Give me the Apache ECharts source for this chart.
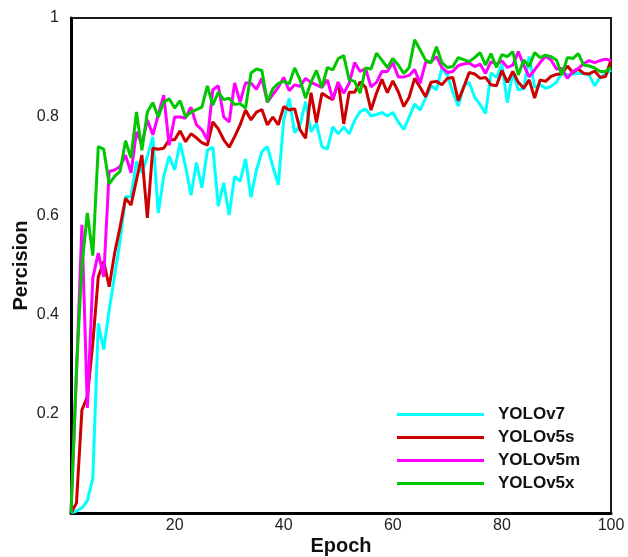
<!DOCTYPE html>
<html lang="en">
<head>
    <meta charset="UTF-8">
    <title>Percision vs Epoch</title>
    <style>
        html, body { margin: 0; padding: 0; background: #fff; }
        div#main { width: 628px; height: 557px; }
    </style>
</head>
<body>
    <div id="main"></div>
    <script src="https://cdn.jsdelivr.net/npm/echarts@6/dist/echarts.min.js"></script>
    <script>
        // epochs 1..100
        const epochs = [];
        for (let i = 1; i <= 100; i++) epochs.push(i);

        const xTicks = [20, 40, 60, 80, 100];
        const names = ['YOLOv7', 'YOLOv5s', 'YOLOv5m', 'YOLOv5x'];
        const colors = ['#00ffff', '#cc0000', '#ff00ff', '#00c800'];

        const yolov7 = [
            0, 0.004, 0.01, 0.025, 0.07, 0.383, 0.33, 0.41, 0.48, 0.55,
            0.639, 0.639, 0.71, 0.687, 0.72, 0.76, 0.606, 0.68, 0.721, 0.693,
            0.748, 0.70, 0.642, 0.708, 0.657, 0.733, 0.739, 0.62, 0.667, 0.602,
            0.68, 0.67, 0.715, 0.638, 0.693, 0.73, 0.74, 0.70, 0.663, 0.794,
            0.838, 0.768, 0.784, 0.831, 0.770, 0.787, 0.74, 0.735, 0.78, 0.766,
            0.78, 0.766, 0.793, 0.811, 0.816, 0.802, 0.805, 0.809, 0.802, 0.809,
            0.79, 0.775, 0.80, 0.826, 0.814, 0.838, 0.863, 0.855, 0.898, 0.885,
            0.85, 0.822, 0.863, 0.87, 0.84, 0.825, 0.807, 0.889, 0.88, 0.906,
            0.829, 0.89, 0.855, 0.857, 0.922, 0.86, 0.865, 0.858, 0.862, 0.87,
            0.89, 0.885, 0.887, 0.888, 0.888, 0.885, 0.863, 0.88, 0.887, 0.895
        ];
        const yolov5s = [
            0, 0.02, 0.208, 0.235, 0.343, 0.477, 0.508, 0.457, 0.525, 0.578,
            0.636, 0.622, 0.673, 0.723, 0.596, 0.737, 0.735, 0.737, 0.754, 0.754,
            0.772, 0.75, 0.766, 0.758, 0.748, 0.743, 0.79, 0.776, 0.754, 0.739,
            0.76, 0.784, 0.814, 0.794, 0.81, 0.815, 0.784, 0.80, 0.784, 0.821,
            0.814, 0.817, 0.774, 0.757, 0.849, 0.789, 0.848, 0.841, 0.835, 0.871,
            0.786, 0.85, 0.85, 0.871, 0.86, 0.814, 0.848, 0.876, 0.849, 0.873,
            0.851, 0.821, 0.84, 0.878, 0.86, 0.841, 0.87, 0.872, 0.865, 0.878,
            0.88, 0.833, 0.86, 0.89, 0.887, 0.878, 0.88, 0.865, 0.863, 0.894,
            0.87, 0.892, 0.87, 0.858, 0.875, 0.838, 0.875, 0.872, 0.882, 0.886,
            0.888, 0.903, 0.89, 0.897, 0.888, 0.887, 0.893, 0.88, 0.882, 0.915
        ];
        const yolov5m = [
            0, 0.28, 0.582, 0.212, 0.475, 0.525, 0.477, 0.69, 0.693, 0.70,
            0.723, 0.687, 0.77, 0.745, 0.794, 0.764, 0.804, 0.844, 0.743, 0.80,
            0.80, 0.798, 0.82, 0.784, 0.774, 0.754, 0.855, 0.863, 0.80, 0.79,
            0.869, 0.83, 0.869, 0.868, 0.856, 0.878, 0.83, 0.845, 0.86, 0.88,
            0.853, 0.865, 0.862, 0.878, 0.87, 0.865, 0.86, 0.875, 0.836, 0.87,
            0.848, 0.868, 0.91, 0.892, 0.898, 0.861, 0.87, 0.892, 0.892, 0.91,
            0.881, 0.881, 0.884, 0.896, 0.868, 0.91, 0.912, 0.922, 0.90, 0.89,
            0.892, 0.904, 0.907, 0.909, 0.902, 0.907, 0.888, 0.912, 0.907, 0.913,
            0.90, 0.905, 0.932, 0.905, 0.881, 0.895, 0.91, 0.923, 0.915, 0.897,
            0.898, 0.878, 0.892, 0.898, 0.908, 0.914, 0.91, 0.914, 0.917, 0.914
        ];
        const yolov5x = [
            0, 0.29, 0.5, 0.606, 0.52, 0.74, 0.735, 0.665, 0.68, 0.69,
            0.752, 0.717, 0.81, 0.733, 0.81, 0.829, 0.80, 0.83, 0.837, 0.818,
            0.833, 0.80, 0.81, 0.815, 0.82, 0.863, 0.824, 0.85, 0.835, 0.838,
            0.825, 0.827, 0.818, 0.889, 0.897, 0.894, 0.83, 0.857, 0.868, 0.872,
            0.867, 0.899, 0.875, 0.838, 0.87, 0.894, 0.86, 0.90, 0.895, 0.918,
            0.924, 0.875, 0.872, 0.848, 0.899, 0.897, 0.929, 0.915, 0.90, 0.918,
            0.905, 0.888, 0.90, 0.956, 0.936, 0.915, 0.909, 0.942, 0.91, 0.90,
            0.902, 0.92, 0.916, 0.912, 0.92, 0.93, 0.905, 0.928, 0.90, 0.926,
            0.922, 0.932, 0.885, 0.915, 0.902, 0.93, 0.92, 0.925, 0.922, 0.915,
            0.885, 0.92, 0.918, 0.928, 0.905, 0.903, 0.899, 0.892, 0.892, 0.90
        ];

        const allValues = [yolov7, yolov5s, yolov5m, yolov5x];
        const font = 'Liberation Sans, Arial, sans-serif';

        const myChart = echarts.init(document.getElementById('main'));

        const option = {
            animation: false,
            backgroundColor: '#fff',
            grid: {
                left: 71, right: 17, top: 18, bottom: 44,
                outerBoundsMode: 'none',
                show: true,
                borderColor: '#1a1a1a',
                borderWidth: 2
            },
            legend: {
                orient: 'vertical',
                left: 392,
                top: 401,
                icon: 'rect',
                itemWidth: 87,
                itemHeight: 3,
                itemGap: 6,
                data: names,
                textStyle: {
                    fontFamily: font,
                    fontSize: 17,
                    lineHeight: 17,
                    fontWeight: 'bold',
                    color: '#111',
                    padding: [0, 0, 0, 9]
                }
            },
            xAxis: {
                type: 'value',
                min: 1,
                max: 100,
                name: 'Epoch',
                nameLocation: 'middle',
                nameGap: 23,
                nameMoveOverlap: false,
                nameTextStyle: { fontFamily: font, fontSize: 20, fontWeight: 'bold', color: '#111' },
                axisLine: { lineStyle: { color: '#000', width: 3 } },
                axisTick: { show: false },
                splitLine: { show: false },
                axisLabel: {
                    customValues: xTicks,
                    margin: 5,
                    fontFamily: font,
                    fontSize: 16,
                    color: '#222'
                }
            },
            yAxis: {
                type: 'value',
                min: 0,
                max: 1,
                interval: 0.2,
                name: 'Percision',
                nameLocation: 'middle',
                nameGap: 40,
                nameMoveOverlap: false,
                nameTextStyle: { fontFamily: font, fontSize: 20, fontWeight: 'bold', color: '#111' },
                axisLine: { show: true, lineStyle: { color: '#000', width: 3 } },
                axisTick: { show: false },
                splitLine: { show: false },
                axisLabel: {
                    showMinLabel: false,
                    margin: 12,
                    fontFamily: font,
                    fontSize: 16,
                    color: '#222'
                }
            },
            series: names.map((n, k) => ({
                name: n,
                type: 'line',
                symbol: 'none',
                data: epochs.map((e, i) => [e, allValues[k][i]]),
                lineStyle: { color: colors[k], width: 3 },
                itemStyle: { color: colors[k] },
                z: 2 + k
            }))
        };

        myChart.setOption(option);
    </script>
</body>
</html>
